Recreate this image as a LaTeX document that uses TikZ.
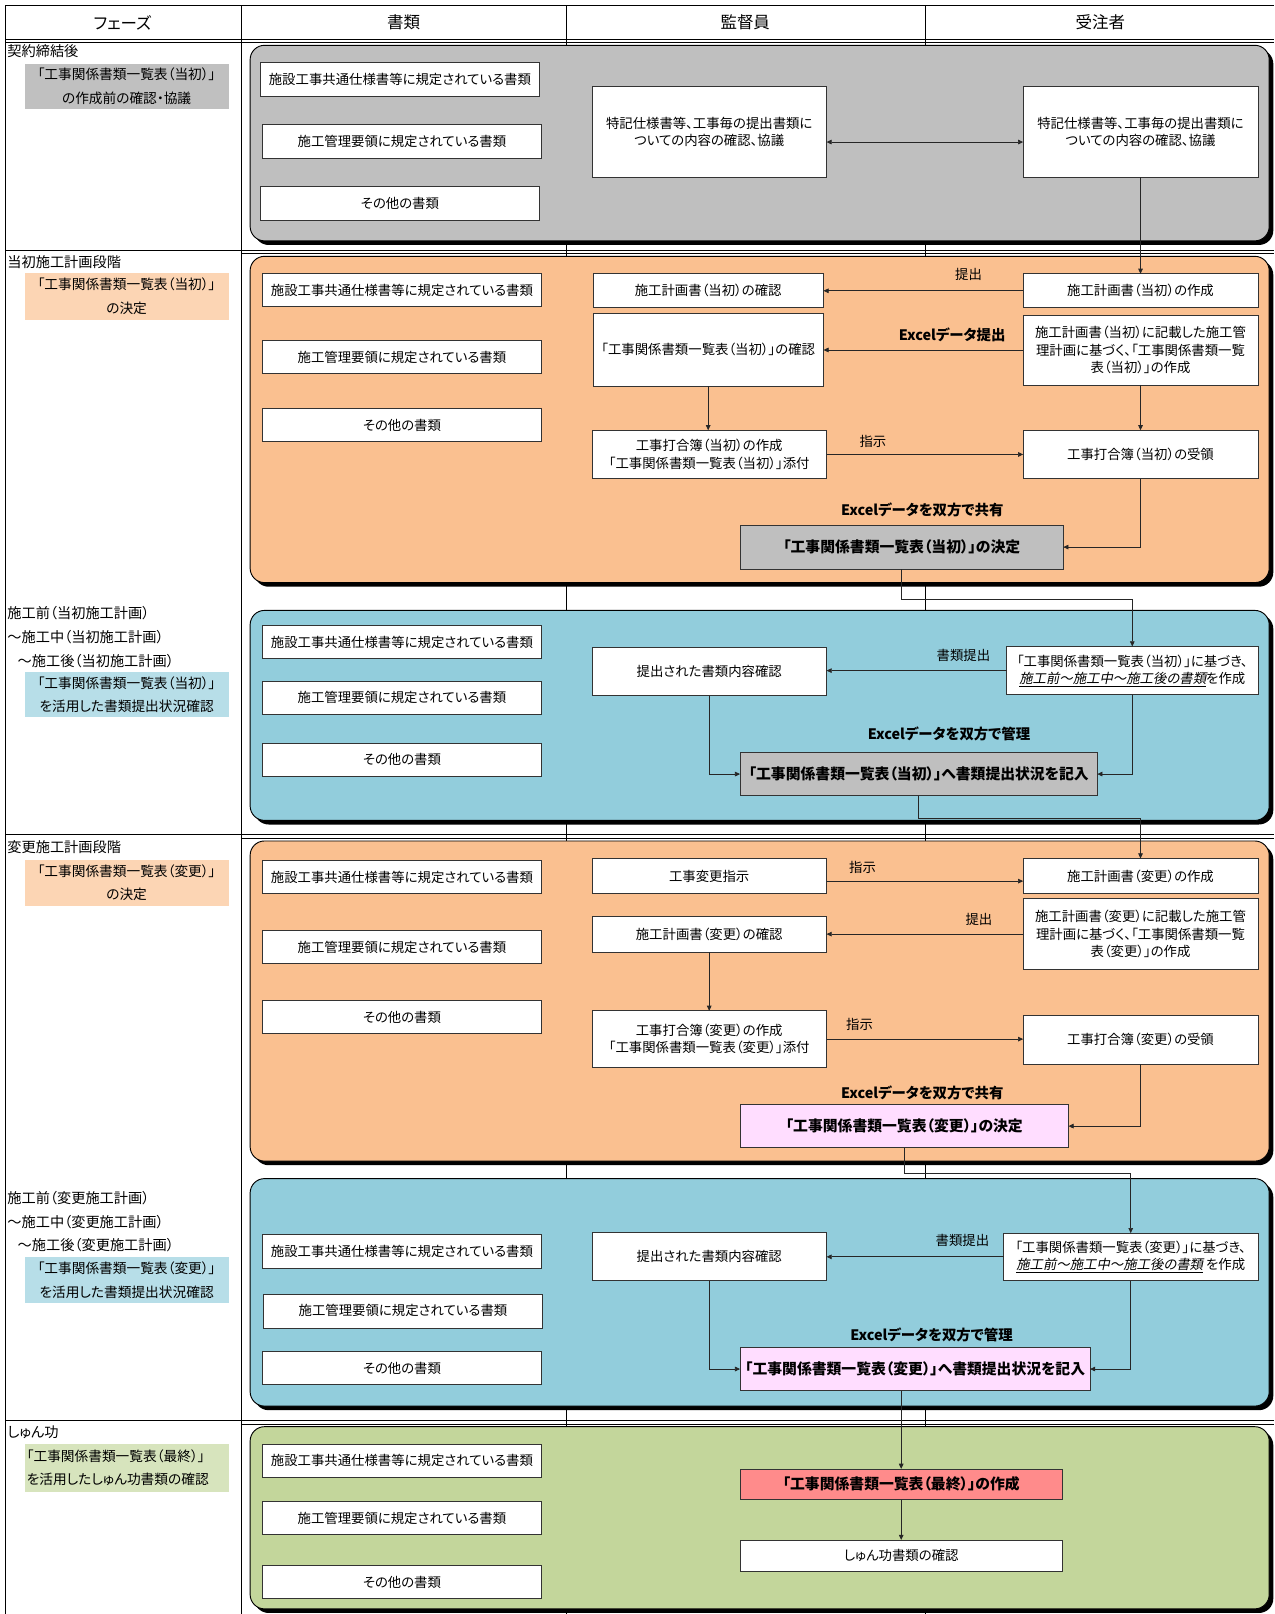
\documentclass[tikz,border=0pt]{standalone}
\usepackage{fontspec}
\setmainfont{Noto Sans CJK JP}[RawFeature=+palt]
\newfontfamily\slantfont{Noto Sans CJK JP}[FakeSlant=0.2,RawFeature=+palt]
\usetikzlibrary{arrows.meta}
\definecolor{boxgray}{HTML}{BFBFBF}
\definecolor{peach}{HTML}{FAC090}
\definecolor{aqua}{HTML}{92CDDC}
\definecolor{olive}{HTML}{C3D69B}
\definecolor{lgray}{HTML}{C0C0C0}
\definecolor{lpeach}{HTML}{FCD5B4}
\definecolor{laqua}{HTML}{B7DEE8}
\definecolor{lolive}{HTML}{D7E4BD}
\definecolor{pinkbox}{HTML}{FFDDFF}
\definecolor{redbox}{HTML}{FF8B8B}
\newcommand\myfs[2]{\fontsize{#1}{#2}\selectfont}
\newcommand\bx[7]{\node[#6, minimum width={#4-#2}, minimum height={#5-#3}] (#1) at ({(#2+#4)/2},{(#3+#5)/2}) {#7};}
\newcommand\phasebox[5]{%
  \fill[black, rounded corners=14pt] (#1+4,#2+4) rectangle (#3+4,#4+4);
  \draw[fill=#5, line width=0.9pt, rounded corners=14pt] (#1,#2) rectangle (#3,#4);}
\begin{document}
\begin{tikzpicture}[x=1pt,y=-1pt,
  doc/.style={draw=black!80, fill=white, line width=0.7pt, inner sep=0pt, outer sep=0pt, align=center, font=\myfs{13}{17}},
  keybox/.style={doc, font=\myfs{14.4}{18}\bfseries},
  lab/.style={inner sep=0pt, outer sep=0pt, align=center, font=\myfs{13.3}{23}},
  ptext/.style={anchor=west, inner sep=0pt, font=\myfs{13.8}{16}},
  note/.style={inner sep=0pt, font=\myfs{13}{16}},
  bnote/.style={inner sep=0pt, font=\myfs{14}{16}\bfseries},
  headtxt/.style={inner sep=0pt, font=\myfs{16}{18}},
  arr/.style={draw=black!85, line width=0.7pt, -{Triangle[length=5pt,width=4.5pt]}},
  dar/.style={draw=black!85, line width=0.7pt, {Triangle[length=5pt,width=4.5pt]}-{Triangle[length=5pt,width=4.5pt]}},
  gline/.style={draw=black, line width=0.7pt}]
\useasboundingbox (0,0) rectangle (1238,1568);
\fill[white] (0,0) rectangle (1238,1568);
% table grid
\draw[gline] (5,5) -- (1238,5);
\draw[gline] (5,38) -- (1238,38);
\draw[gline] (5,41) -- (1238,41);
\draw[gline] (5,5) -- (5,1568);
\draw[gline] (234,5) -- (234,1568);
\draw[gline] (550,5) -- (550,1568);
\draw[gline] (899,5) -- (899,1568);
\draw[gline] (5,243) -- (1238,243);
\draw[gline] (234,246.5) -- (1238,246.5);
\draw[gline] (5,811) -- (1238,811);
\draw[gline] (234,814.5) -- (1238,814.5);
\draw[gline] (5,1380) -- (1238,1380);
\draw[gline] (234,1383.5) -- (1238,1383.5);
% header
\node[headtxt] (h1) at (119,22) {フェーズ};
\node[headtxt] (h2) at (392,22) {書類};
\node[headtxt] (h3) at (724,22) {監督員};
\node[headtxt] (h4) at (1069,22) {受注者};
% phase boxes
\phasebox{243}{44}{1233}{234}{boxgray}
\phasebox{243}{249}{1233}{566}{peach}
\phasebox{243}{593}{1233}{797}{aqua}
\phasebox{243}{817}{1233}{1128}{peach}
\phasebox{243}{1145}{1233}{1366}{aqua}
\phasebox{243}{1386}{1233}{1563}{olive}
% left column
\node[ptext] (t1) at (7,50) {契約締結後};
\bx{lb1}{24}{62}{222}{106}{lab,fill=lgray}{「工事関係書類一覧表（当初）」\\の作成前の確認・協議}
\node[ptext] (t2) at (7,255) {当初施工計画段階};
\bx{lb2}{24}{265}{222}{311}{lab,fill=lpeach}{「工事関係書類一覧表（当初）」\\の決定}
\node[ptext] (t3a) at (7,596) {施工前（当初施工計画）};
\node[ptext] (t3b) at (7,619) {～施工中（当初施工計画）};
\node[ptext] (t3c) at (17,642) {～施工後（当初施工計画）};
\bx{lb3}{24}{653}{222}{697}{lab,fill=laqua}{「工事関係書類一覧表（当初）」\\を活用した書類提出状況確認}
\node[ptext] (t4) at (7,823) {変更施工計画段階};
\bx{lb4}{24}{835}{222}{880}{lab,fill=lpeach}{「工事関係書類一覧表（変更）」\\の決定}
\node[ptext] (t5a) at (7,1164) {施工前（変更施工計画）};
\node[ptext] (t5b) at (7,1187) {～施工中（変更施工計画）};
\node[ptext] (t5c) at (17,1210) {～施工後（変更施工計画）};
\bx{lb5}{24}{1221}{222}{1266}{lab,fill=laqua}{「工事関係書類一覧表（変更）」\\を活用した書類提出状況確認}
\node[ptext] (t6) at (7,1391) {しゅん功};
\bx{lb6}{24}{1403}{222}{1449}{lab,fill=lolive,text width=194pt,align=left}{「工事関係書類一覧表（最終）」\\を活用したしゅん功書類の確認}
% document boxes
\bx{d11}{253}{61}{524}{94}{doc}{施設工事共通仕様書等に規定されている書類}
\bx{d12}{255}{121}{526}{154}{doc}{施工管理要領に規定されている書類}
\bx{d13}{253}{181}{524}{214}{doc}{その他の書類}
\bx{d21}{255}{266}{526}{298}{doc}{施設工事共通仕様書等に規定されている書類}
\bx{d22}{255}{331}{526}{363}{doc}{施工管理要領に規定されている書類}
\bx{d23}{255}{397}{526}{429}{doc}{その他の書類}
\bx{d31}{255}{608}{526}{640}{doc}{施設工事共通仕様書等に規定されている書類}
\bx{d32}{255}{662}{526}{694}{doc}{施工管理要領に規定されている書類}
\bx{d33}{255}{722}{526}{754}{doc}{その他の書類}
\bx{d41}{255}{836}{526}{868}{doc}{施設工事共通仕様書等に規定されている書類}
\bx{d42}{255}{904}{526}{936}{doc}{施工管理要領に規定されている書類}
\bx{d43}{255}{972}{526}{1004}{doc}{その他の書類}
\bx{d51}{255}{1199}{526}{1232}{doc}{施設工事共通仕様書等に規定されている書類}
\bx{d52}{256}{1257}{527}{1290}{doc}{施工管理要領に規定されている書類}
\bx{d53}{255}{1313}{526}{1345}{doc}{その他の書類}
\bx{d61}{255}{1403}{526}{1435}{doc}{施設工事共通仕様書等に規定されている書類}
\bx{d62}{255}{1459}{526}{1491}{doc}{施工管理要領に規定されている書類}
\bx{d63}{255}{1521}{526}{1553}{doc}{その他の書類}
% row 1
\bx{K1}{575}{84}{803}{172}{doc}{特記仕様書等、工事毎の提出書類に\\ついての内容の確認、協議}
\bx{J1}{994}{84}{1222}{172}{doc}{特記仕様書等、工事毎の提出書類に\\ついての内容の確認、協議}
% row 2
\bx{K2a}{576}{266}{800}{299}{doc}{施工計画書（当初）の確認}
\bx{K2b}{576}{304}{800}{375}{doc}{「工事関係書類一覧表（当初）」の確認}
\bx{K2c}{575}{418}{803}{465}{doc}{工事打合簿（当初）の作成\\「工事関係書類一覧表（当初）」添付}
\bx{J2a}{994}{266}{1222}{299}{doc}{施工計画書（当初）の作成}
\bx{J2b}{994}{306}{1222}{374}{doc}{施工計画書（当初）に記載した施工管\\理計画に基づく、「工事関係書類一覧\\表（当初）」の作成}
\bx{J2c}{994}{418}{1222}{465}{doc}{工事打合簿（当初）の受領}
\bx{D2}{719}{510}{1033}{553}{keybox,fill=boxgray}{「工事関係書類一覧表（当初）」の決定}
% row 3
\bx{K3}{575}{629}{803}{676}{doc}{提出された書類内容確認}
\bx{J3}{978}{628}{1222}{675}{doc}{「工事関係書類一覧表（当初）」に基づき、\\\underline{\slantfont 施工前～施工中～施工後の書類}を作成}
\bx{D3}{719}{731}{1066}{773}{keybox,fill=boxgray}{「工事関係書類一覧表（当初）」へ書類提出状況を記入}
% row 4
\bx{K4a}{575}{834}{803}{868}{doc}{工事変更指示}
\bx{K4b}{575}{890}{803}{925}{doc}{施工計画書（変更）の確認}
\bx{K4c}{575}{982}{803}{1037}{doc}{工事打合簿（変更）の作成\\「工事関係書類一覧表（変更）」添付}
\bx{J4a}{994}{834}{1222}{868}{doc}{施工計画書（変更）の作成}
\bx{J4b}{994}{873}{1222}{942}{doc}{施工計画書（変更）に記載した施工管\\理計画に基づく、「工事関係書類一覧\\表（変更）」の作成}
\bx{J4c}{994}{986}{1222}{1034}{doc}{工事打合簿（変更）の受領}
\bx{D4}{719}{1073}{1038}{1115}{keybox,fill=pinkbox}{「工事関係書類一覧表（変更）」の決定}
% row 5
\bx{K5}{575}{1197}{803}{1244}{doc}{提出された書類内容確認}
\bx{J5}{975}{1198}{1222}{1244}{doc}{「工事関係書類一覧表（変更）」に基づき、\\\underline{\slantfont 施工前～施工中～施工後の書類} を作成}
\bx{D5}{719}{1309}{1059}{1351}{keybox,fill=pinkbox}{「工事関係書類一覧表（変更）」へ書類提出状況を記入}
% row 6
\bx{D6}{719}{1427}{1032}{1457}{keybox,fill=redbox}{「工事関係書類一覧表（最終）」の作成}
\bx{F6}{719}{1496}{1032}{1527}{doc}{しゅん功書類の確認}
% labels
\node[note] (n1) at (941,267) {提出};
\node[bnote] (n2) at (925,325) {Excelデータ提出};
\node[note] (n3) at (848,429) {指示};
\node[bnote] (n4) at (896,495) {Excelデータを双方で共有};
\node[note] (n5) at (936,637) {書類提出};
\node[bnote] (n6) at (922,713) {Excelデータを双方で管理};
\node[note] (n7) at (838,843) {指示};
\node[note] (n8) at (951,893) {提出};
\node[note] (n9) at (835,995) {指示};
\node[bnote] (n10) at (896,1062) {Excelデータを双方で共有};
\node[note] (n11) at (935,1205) {書類提出};
\node[bnote] (n12) at (905,1297) {Excelデータを双方で管理};
% connectors
\coordinate (a1) at ([yshift=-10pt]K1.east);
\draw[dar] (a1) -- (a1 -| J1.west);
\draw[arr] (J1.south) -- (J2a.north);
\draw[arr] (J2a.west) -- (J2a.west -| K2a.east);
\draw[arr] (J2b.west) -- (J2b.west -| K2b.east);
\draw[arr] (K2b.south) -- (K2b.south |- K2c.north);
\draw[arr] (J2b.south) -- (J2c.north);
\draw[arr] (K2c.east) -- (K2c.east -| J2c.west);
\draw[arr] (J2c.south) |- (D2.east);
\coordinate (c1) at (0,582);
\draw[arr] (D2.south) -- (D2.south |- c1) -| (J3.north);
\draw[arr] (J3.west) -- (J3.west -| K3.east);
\draw[arr] (K3.south) |- (D3.west);
\draw[arr] (J3.south) |- (D3.east);
\coordinate (c2) at (0,795);
\draw[arr] (D3.south) -- (D3.south |- c2) -| (J4a.north);
\coordinate (a2) at ([yshift=-5pt]K4a.east);
\draw[arr] (a2) -- (a2 -| J4a.west);
\draw[arr] (J4b.west) -- (J4b.west -| K4b.east);
\draw[arr] (K4b.south) -- (K4b.south |- K4c.north);
\draw[arr] (K4c.east) -- (K4c.east -| J4c.west);
\draw[arr] (J4c.south) |- (D4.east);
\coordinate (c3) at (0,1140);
\draw[arr] (D4.south) -- (D4.south |- c3) -| (J5.north);
\draw[arr] (J5.west) -- (J5.west -| K5.east);
\draw[arr] (K5.south) |- (D5.west);
\draw[arr] (J5.south) |- (D5.east);
\draw[arr] (D6.north |- D5.south) -- (D6.north);
\draw[arr] (D6.south) -- (F6.north);
\end{tikzpicture}
\end{document}
